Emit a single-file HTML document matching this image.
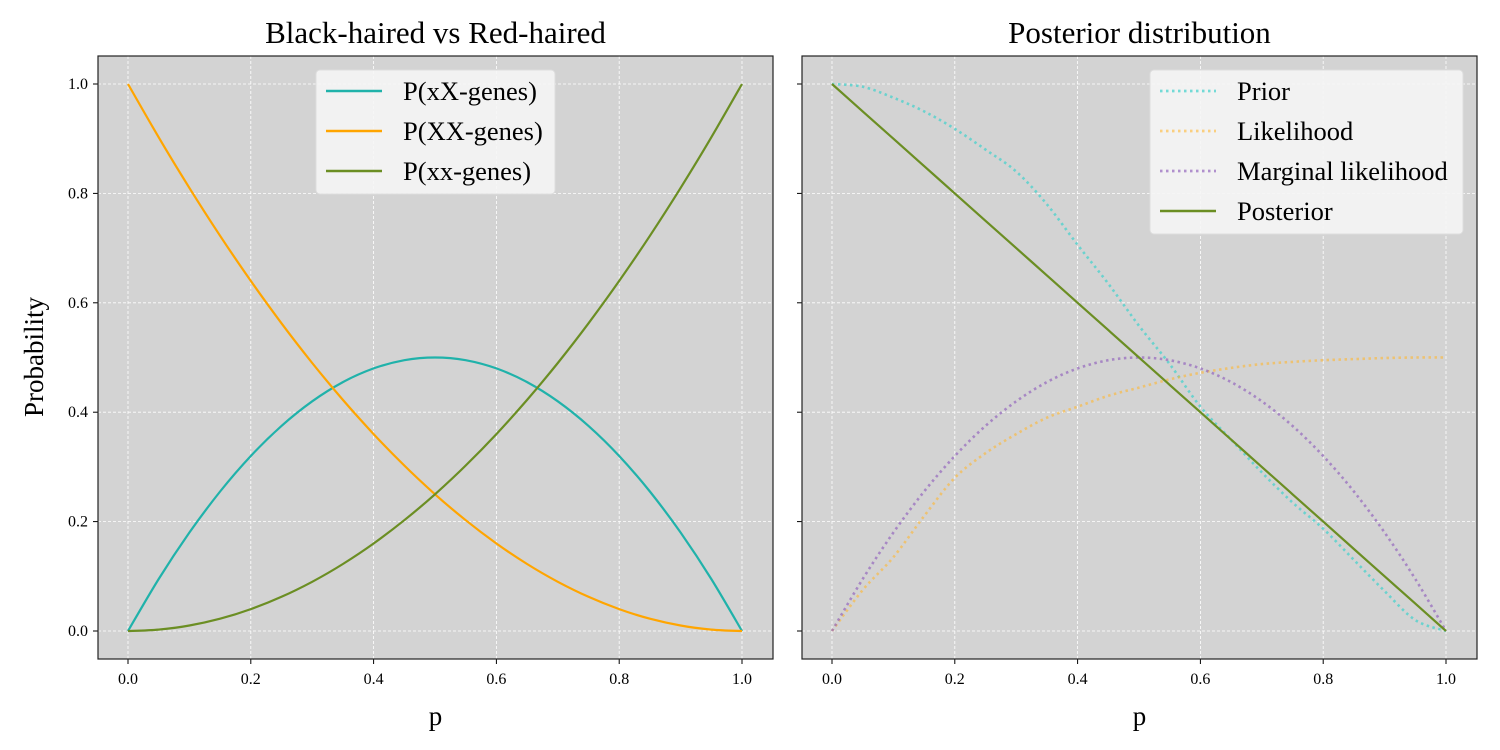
<!DOCTYPE html>
<html><head><meta charset="utf-8"><style>
html,body{margin:0;padding:0;background:#fff;}
svg{display:block;font-family:"Liberation Serif",serif;}
</style></head><body>
<svg id="chart" width="1500" height="750" viewBox="0 0 1500 750"></svg>
<script>
const pVals=[0,0.05,0.1,0.15,0.2,0.25,0.3,0.35,0.4,0.45,0.5,0.55,0.6,0.65,0.7,0.75,0.8,0.85,0.9,0.95,1];
const xXGenes=[0,0.095,0.18,0.255,0.32,0.375,0.42,0.455,0.48,0.495,0.5,0.495,0.48,0.455,0.42,0.375,0.32,0.255,0.18,0.095,0];
const XXGenes=[1,0.9025,0.81,0.7225,0.64,0.5625,0.49,0.4225,0.36,0.3025,0.25,0.2025,0.16,0.1225,0.09,0.0625,0.04,0.0225,0.01,0.0025,0];
const xxGenes=[0,0.0025,0.01,0.0225,0.04,0.0625,0.09,0.1225,0.16,0.2025,0.25,0.3025,0.36,0.4225,0.49,0.5625,0.64,0.7225,0.81,0.9025,1];
const priorVals=[1,0.995,0.975,0.95,0.918,0.88,0.84,0.78,0.706,0.635,0.558,0.488,0.41,0.35,0.29,0.235,0.187,0.13,0.073,0.02,0];
const likelihoodVals=[0,0.075,0.135,0.21,0.28,0.325,0.36,0.39,0.41,0.43,0.445,0.46,0.472,0.481,0.488,0.492,0.495,0.497,0.499,0.5,0.5];
const marginalVals=[0,0.095,0.18,0.255,0.32,0.375,0.42,0.455,0.48,0.495,0.5,0.495,0.48,0.455,0.42,0.375,0.32,0.255,0.18,0.095,0];
const posteriorVals=[1,0.95,0.9,0.85,0.8,0.75,0.7,0.65,0.6,0.55,0.5,0.45,0.4,0.35,0.3,0.25,0.2,0.15,0.1,0.05,0];
const xTicks=[0,0.2,0.4,0.6,0.8,1.0];
const yTicks=[0,0.2,0.4,0.6,0.8,1.0];

const NS="http://www.w3.org/2000/svg";
const svg=document.getElementById('chart');
function mk(tag,attrs,parent){const e=document.createElementNS(NS,tag);for(const k in attrs)e.setAttribute(k,attrs[k]);(parent||svg).appendChild(e);return e;}
function yS(v){return 631-v*547;}

function panel(ox,title,name,showY){
  const g=mk('g',{});
  
  
  const xS=v=>ox+30+v*614;
  const bg=mk('rect',{x:ox,y:56,width:675,height:603,fill:'#d3d3d3'},g);
  
  
  xTicks.forEach(t=>{
    const l=mk('line',{x1:xS(t),x2:xS(t),y1:56,y2:659,stroke:'#fff','stroke-width':0.8,'stroke-dasharray':'3,2'},g);
    
    
    mk('line',{x1:xS(t),x2:xS(t),y1:659,y2:664,stroke:'#000','stroke-width':1},g);
    const tx=mk('text',{x:xS(t),y:684,'font-size':16,'text-anchor':'middle'},g);
    tx.textContent=t.toFixed(1);
    
    
  });
  yTicks.forEach(t=>{
    const l=mk('line',{x1:ox,x2:ox+675,y1:yS(t),y2:yS(t),stroke:'#fff','stroke-width':0.8,'stroke-dasharray':'3,2'},g);
    
    
    mk('line',{x1:ox-5,x2:ox,y1:yS(t),y2:yS(t),stroke:'#000','stroke-width':1},g);
    if(showY){
      const tx=mk('text',{x:ox-10,y:yS(t)+5,'font-size':16,'text-anchor':'end'},g);
      tx.textContent=t.toFixed(1);
      
      
    }
  });
  const tt=mk('text',{x:ox+337.5,y:43,'font-size':31,'text-anchor':'middle'},g);
  tt.textContent=title;
  
  
  const xl=mk('text',{x:ox+337.5,y:725,'font-size':27,'text-anchor':'middle'},g);
  xl.textContent='p';
  
  
  return {g,xS,ox};
}
function smoothPath(pts){
  let d='M'+pts[0][0].toFixed(1)+','+pts[0][1].toFixed(1);
  for(let i=0;i<pts.length-1;i++){
    const p0=pts[Math.max(0,i-1)],p1=pts[i],p2=pts[i+1],p3=pts[Math.min(pts.length-1,i+2)];
    const c1x=p1[0]+(p2[0]-p0[0])/6,c1y=p1[1]+(p2[1]-p0[1])/6;
    const c2x=p2[0]-(p3[0]-p1[0])/6,c2y=p2[1]-(p3[1]-p1[1])/6;
    d+=' C'+c1x.toFixed(1)+','+c1y.toFixed(1)+' '+c2x.toFixed(1)+','+c2y.toFixed(1)+' '+p2[0].toFixed(1)+','+p2[1].toFixed(1);
  }
  return d;
}
function series(P,vals,color,dotted,op,name){
  const pts=vals.map((v,i)=>[P.xS(pVals[i]),yS(v)]);
  const a={d:smoothPath(pts),fill:'none',stroke:color,'stroke-width':2.2,'stroke-opacity':op,'stroke-linejoin':'round'};
  if(dotted){a['stroke-dasharray']='2.5,3.5';a['stroke-width']=2.6;}
  const p=mk('path',a,P.g);
  
  
}
function frame(P){const r=mk('rect',{x:P.ox,y:56,width:675,height:603,fill:'none',stroke:'#222','stroke-width':1.2},P.g);}
function legend(P,x,y,w,items){
  const lg=mk('g',{},P.g);
  
  
  mk('rect',{x:x,y:y,width:w,height:items.length*40+4,rx:4,fill:'#f5f5f5','fill-opacity':0.9,stroke:'#ddd'},lg);
  items.forEach((it,i)=>{
    const cy=y+21+i*40;
    const ln={x1:x+10,x2:x+66,y1:cy,y2:cy,stroke:it[1],'stroke-width':2.4,'stroke-opacity':it[3]};
    if(it[2]){ln['stroke-dasharray']='2.5,3.5';ln['stroke-width']=2.8;}
    mk('line',ln,lg);
    const t=mk('text',{x:x+87,y:cy+9,'font-size':26.5},lg);
    t.textContent=it[0];
    
    
  });
}
const L=panel(98,'Black-haired vs Red-haired','left-panel',true);
series(L,xXGenes,'#20b2aa',false,1,'line-xX-genes');
series(L,XXGenes,'#ffa500',false,1,'line-XX-genes');
series(L,xxGenes,'#6b8e23',false,1,'line-xx-genes');
frame(L);
legend(L,316,70,239,[['P(xX-genes)','#20b2aa',false,1],['P(XX-genes)','#ffa500',false,1],['P(xx-genes)','#6b8e23',false,1]]);
const R=panel(802,'Posterior distribution','right-panel',false);
series(R,priorVals,'#48d1cc',true,0.75,'line-prior');
series(R,likelihoodVals,'#ffb732',true,0.6,'line-likelihood');
series(R,marginalVals,'#9467bd',true,0.7,'line-marginal-likelihood');
series(R,posteriorVals,'#6b8e23',false,1,'line-posterior');
frame(R);
legend(R,1150,70,313,[['Prior','#48d1cc',true,0.75],['Likelihood','#ffb732',true,0.6],['Marginal likelihood','#9467bd',true,0.7],['Posterior','#6b8e23',false,1]]);
const yl=mk('text',{x:0,y:0,'font-size':27,'text-anchor':'middle',transform:'translate(43,357) rotate(-90)'});
yl.textContent='Probability';


</script>
</body></html>
